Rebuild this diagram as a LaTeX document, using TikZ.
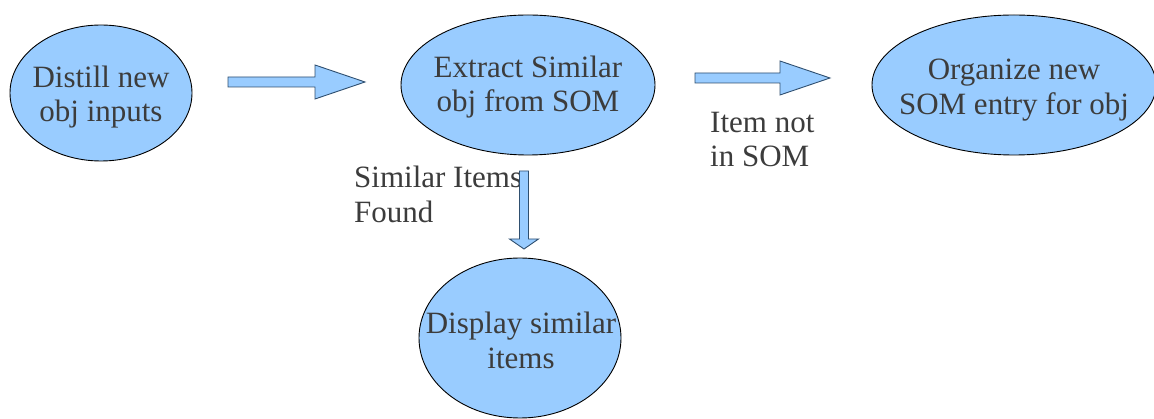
\documentclass[tikz,border=0pt]{standalone}
\usepackage{fontspec}
\setmainfont{Liberation Serif}
\usetikzlibrary{shapes.geometric}
\definecolor{fillblue}{HTML}{99CCFF}
\definecolor{txtgray}{HTML}{3C3C3C}
\definecolor{arrowline}{HTML}{2F4F6F}
\tikzset{
  ell/.style={ellipse, draw=black, line width=0.9pt, fill=fillblue, inner sep=0pt},
  txt/.style={inner sep=0pt, align=center, text=txtgray, font=\fontsize{31}{34.5}\selectfont},
  lbl/.style={inner sep=0pt, align=left, anchor=north west, text=txtgray, font=\fontsize{31}{34.5}\selectfont},
  blockarrow/.style={draw=arrowline, line width=0.9pt, fill=fillblue, line join=miter}
}
\begin{document}
\begin{tikzpicture}[x=1pt,y=-1pt]
\useasboundingbox (0,0) rectangle (1154,419);
% ellipses
\node[ell, minimum width=182pt, minimum height=136pt] (distill) at (101,93) {};
\node[ell, minimum width=254pt, minimum height=140pt] (extract) at (528,85) {};
\node[ell, minimum width=284pt, minimum height=140pt] (organize) at (1014,85) {};
\node[ell, minimum width=202pt, minimum height=160pt] (display) at (520,338) {};
% texts
\node[txt, yshift=-4.25pt] (tdistill) at (distill.center) {Distill new\\obj inputs};
\node[txt, yshift=-2.25pt] (textract) at (extract.center) {Extract Similar\\obj from SOM};
\node[txt, yshift=-5.25pt] (torganize) at (organize.center) {Organize new\\SOM entry for obj};
\node[txt, yshift=-2.2pt, xshift=1pt] (tdisplay) at (display.center) {Display similar\\items};
% labels
\node[lbl] (notin) at (710,111.8) {Item not\\in SOM};
\node[lbl] (found) at (354,165.8) {Similar Items\\Found};
% block arrows
\coordinate (a1) at (228,82);
\coordinate (a2) at (695,78);
\coordinate (a3) at (524,171);
\draw[blockarrow] (a1) ++(0,-5) -- ++(87,0) -- ++(0,-12) -- ++(50,17) -- ++(-50,17) -- ++(0,-12) -- ++(-87,0) -- cycle;
\draw[blockarrow] (a2) ++(0,-5) -- ++(85,0) -- ++(0,-12) -- ++(50,17) -- ++(-50,17) -- ++(0,-12) -- ++(-85,0) -- cycle;
\draw[blockarrow] (a3) ++(-4.5,0) -- ++(0,68) -- ++(-10,0) -- ++(14.5,10) -- ++(14.5,-10) -- ++(-10,0) -- ++(0,-68) -- cycle;
\end{tikzpicture}
\end{document}
